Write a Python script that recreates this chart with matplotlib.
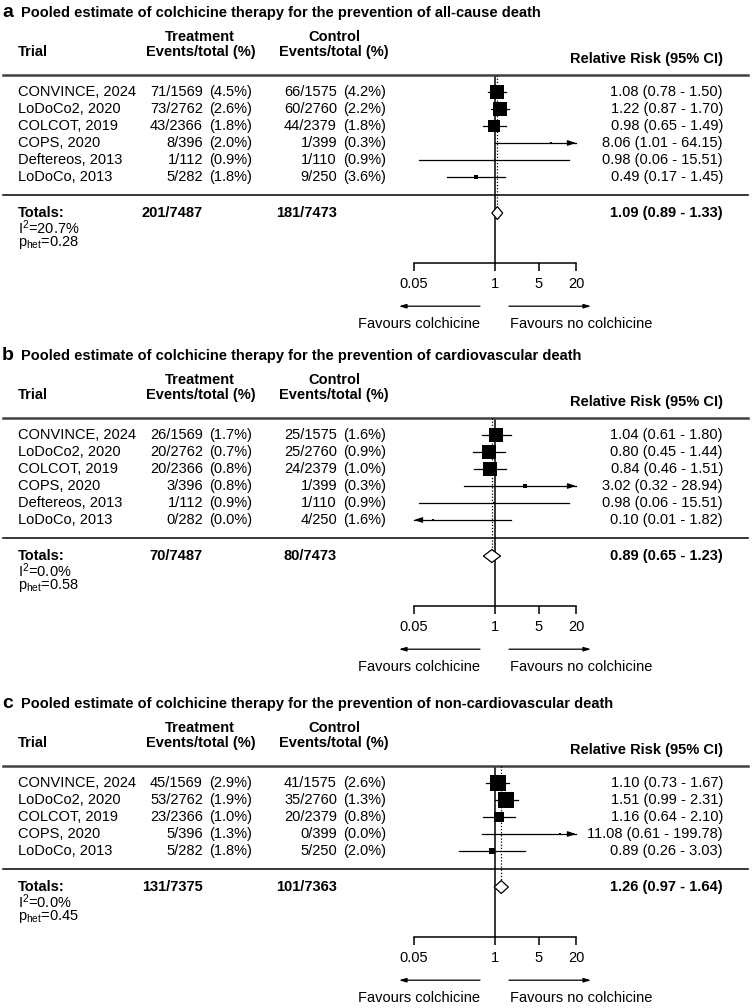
import matplotlib
matplotlib.use('Agg')
import matplotlib.pyplot as plt
from matplotlib import transforms
from matplotlib.patches import Polygon
from matplotlib.ticker import NullLocator

plt.rcParams['font.family'] = ['Liberation Sans', 'DejaVu Sans']
plt.rcParams['font.size'] = 10.5
plt.rcParams['mathtext.fontset'] = 'custom'
plt.rcParams['mathtext.rm'] = 'Liberation Sans'
plt.rcParams['mathtext.it'] = 'Liberation Sans:italic'
plt.rcParams['mathtext.bf'] = 'Liberation Sans:bold'

# ---- data: panel a (all-cause death) ----
a_trials = ['CONVINCE, 2024', 'LoDoCo2, 2020', 'COLCOT, 2019', 'COPS, 2020', 'Deftereos, 2013', 'LoDoCo, 2013']
a_trt_ev = [71, 73, 43, 8, 1, 5]
a_trt_n = [1569, 2762, 2366, 396, 112, 282]
a_ctl_ev = [66, 60, 44, 1, 1, 9]
a_ctl_n = [1575, 2760, 2379, 399, 110, 250]
a_rr = [1.08, 1.22, 0.98, 8.06, 0.98, 0.49]
a_lo = [0.78, 0.87, 0.65, 1.01, 0.06, 0.17]
a_hi = [1.50, 1.70, 1.49, 64.15, 15.51, 1.45]
a_weight = [36.5, 35.4, 23.3, 1.0, 0.5, 3.4]
a_pooled = (1.09, 0.89, 1.33)
a_i2, a_phet = '20.7', '0.28'

# ---- data: panel b (cardiovascular death) ----
b_trials = ['CONVINCE, 2024', 'LoDoCo2, 2020', 'COLCOT, 2019', 'COPS, 2020', 'Deftereos, 2013', 'LoDoCo, 2013']
b_trt_ev = [26, 20, 20, 3, 1, 0]
b_trt_n = [1569, 2762, 2366, 396, 112, 282]
b_ctl_ev = [25, 25, 24, 1, 1, 4]
b_ctl_n = [1575, 2760, 2379, 399, 110, 250]
b_rr = [1.04, 0.80, 0.84, 3.02, 0.98, 0.10]
b_lo = [0.61, 0.45, 0.46, 0.32, 0.06, 0.01]
b_hi = [1.80, 1.44, 1.51, 28.94, 15.51, 1.82]
b_weight = [34.9, 30.5, 29.9, 2.1, 1.4, 1.2]
b_pooled = (0.89, 0.65, 1.23)
b_i2, b_phet = '0.0', '0.58'

# ---- data: panel c (non-cardiovascular death) ----
c_trials = ['CONVINCE, 2024', 'LoDoCo2, 2020', 'COLCOT, 2019', 'COPS, 2020', 'LoDoCo, 2013']
c_trt_ev = [45, 53, 23, 5, 5]
c_trt_n = [1569, 2762, 2366, 396, 282]
c_ctl_ev = [41, 35, 20, 0, 5]
c_ctl_n = [1575, 2760, 2379, 399, 250]
c_rr = [1.10, 1.51, 1.16, 11.08, 0.89]
c_lo = [0.73, 0.99, 0.64, 0.61, 0.26]
c_hi = [1.67, 2.31, 2.10, 199.78, 3.03]
c_weight = [38.1, 37.5, 19.0, 0.8, 4.4]
c_pooled = (1.26, 0.97, 1.64)
c_i2, c_phet = '0.0', '0.45'

outcomes = ['all-cause death', 'cardiovascular death', 'non-cardiovascular death']
letters = ['a', 'b', 'c']

panels = [
    (a_trials, a_trt_ev, a_trt_n, a_ctl_ev, a_ctl_n, a_rr, a_lo, a_hi, a_weight, a_pooled, a_i2, a_phet),
    (b_trials, b_trt_ev, b_trt_n, b_ctl_ev, b_ctl_n, b_rr, b_lo, b_hi, b_weight, b_pooled, b_i2, b_phet),
    (c_trials, c_trt_ev, c_trt_n, c_ctl_ev, c_ctl_n, c_rr, c_lo, c_hi, c_weight, c_pooled, c_i2, c_phet),
]

# layout in pixels
W, H = 752, 1008
ROW = 17.0
X_LO, X_HI = 414, 576
XMIN, XMAX = 0.05, 20
panel_tops = [12, 355, 703]

fig = plt.figure(figsize=(W / 100, H / 100), dpi=100)
fig.patch.set_facecolor('white')

for letter, outcome, p, top in zip(letters, outcomes, panels, panel_tops):
    trials, t_ev, t_n, c_ev, c_n, rr, lo, hi, wt, pooled, i2, phet = p
    n = len(trials)
    row0 = top + 80
    y_top = -1.0
    y_axis = n + 4.06
    top_px = row0 + y_top * ROW
    bot_px = row0 + y_axis * ROW
    ax = fig.add_axes([X_LO / W, 1 - bot_px / H, (X_HI - X_LO) / W, (bot_px - top_px) / H])
    ax.patch.set_visible(False)
    ax.set_xscale('log')
    ax.set_xlim(XMIN, XMAX)
    ax.set_ylim(y_axis, y_top)
    for s in ['top', 'left', 'right']:
        ax.spines[s].set_visible(False)
    ax.spines['bottom'].set_linewidth(1.1)
    ax.yaxis.set_visible(False)
    ax.set_xticks([0.05, 1, 5, 20])
    ax.set_xticklabels(['0.05', '1', '5', '20'])
    ax.xaxis.set_minor_locator(NullLocator())
    ax.tick_params(axis='x', direction='out', length=6, width=1.1, pad=4, labelsize=10.5)

    trans = transforms.blended_transform_factory(fig.transFigure, ax.transData)

    def put(x, y, s, **kw):
        ax.text(x / W, y, s, transform=trans, clip_on=False, **kw)

    def rule(y, **kw):
        ax.plot([3 / W, 748 / W], [y, y], transform=trans, clip_on=False, **kw)

    # title
    put(2, -4.41, letter, fontsize=14, fontweight='bold', va='baseline')
    put(21, -4.41, 'Pooled estimate of colchicine therapy for the prevention of ' + outcome,
        fontweight='bold', va='baseline')

    # headers
    put(200, -3.24, 'Treatment', fontweight='bold', ha='center', va='center')
    put(334, -3.24, 'Control', fontweight='bold', ha='center', va='center')
    put(18, -2.35, 'Trial', fontweight='bold', va='center')
    put(201, -2.35, 'Events/total (%)', fontweight='bold', ha='center', va='center')
    put(334, -2.35, 'Events/total (%)', fontweight='bold', ha='center', va='center')
    put(723, -1.94, 'Relative Risk (95% CI)', fontweight='bold', ha='right', va='center')

    rule(-1.0, color='#404040', lw=1.8)
    rule(n + 0.06, color='black', lw=1.1)

    # study rows
    for i in range(n):
        put(18, i, trials[i], va='center')
        put(203, i, f'{t_ev[i]}/{t_n[i]}', ha='right', va='center')
        put(209, i, f'({100 * t_ev[i] / t_n[i]:.1f}%)', va='center')
        put(337, i, f'{c_ev[i]}/{c_n[i]}', ha='right', va='center')
        put(343, i, f'({100 * c_ev[i] / c_n[i]:.1f}%)', va='center')
        put(723, i, f'{rr[i]:.2f} ({lo[i]:.2f} - {hi[i]:.2f})', ha='right', va='center')

        x0 = max(lo[i], XMIN)
        x1 = min(hi[i], XMAX)
        ax.plot([x0, x1], [i, i], color='black', lw=0.9, clip_on=False, zorder=2)
        head = dict(arrowstyle='-|>,head_length=0.45,head_width=0.15', color='black', lw=0.9,
                    shrinkA=0, shrinkB=0)
        if hi[i] > XMAX:
            ax.annotate('', xy=(XMAX, i), xytext=(XMAX * 0.8, i), arrowprops=head, zorder=2)
        if lo[i] < XMIN:
            ax.annotate('', xy=(XMIN, i), xytext=(XMIN * 1.25, i), arrowprops=head, zorder=2)
        side_px = 2.45 * wt[i] ** 0.5
        ax.plot([rr[i]], [i], marker='s', ms=side_px * 0.72, color='black', mew=0,
                clip_on=False, zorder=3)

    # line of no effect
    ax.axvline(1, color='black', lw=1.1, zorder=1)

    # totals row
    yt = n + 1.12
    put(18, yt, 'Totals:', fontweight='bold', va='center')
    put(203, yt, f'{sum(t_ev)}/{sum(t_n)}', fontweight='bold', ha='right', va='center')
    put(337, yt, f'{sum(c_ev)}/{sum(c_n)}', fontweight='bold', ha='right', va='center')
    put(723, yt, f'{pooled[0]:.2f} ({pooled[1]:.2f} - {pooled[2]:.2f})', fontweight='bold',
        ha='right', va='center')
    put(18, n + 1.98, 'I$^{2}$=' + i2 + '%', va='center')
    put(18, n + 2.87, r'p$_{\mathrm{het}}$=' + phet, va='center')

    dh = 0.38
    est, plo, phi = pooled
    ax.add_patch(Polygon([(plo, yt), (est, yt - dh), (phi, yt), (est, yt + dh)], closed=True,
                         facecolor='white', edgecolor='black', lw=0.9, zorder=4, clip_on=False))
    ax.plot([est, est], [y_top, yt - dh], color='black', lw=0.9, ls=(0, (1, 1.5)), zorder=2)

    # favours arrows
    ya = n + 6.6
    arr = dict(arrowstyle='-|>,head_length=0.4,head_width=0.12', color='black', lw=0.9,
               shrinkA=0, shrinkB=0)
    ax.annotate('', xy=(399 / W, ya), xytext=(480 / W, ya), xycoords=trans, textcoords=trans,
                arrowprops=arr, annotation_clip=False)
    ax.annotate('', xy=(591 / W, ya), xytext=(509 / W, ya), xycoords=trans, textcoords=trans,
                arrowprops=arr, annotation_clip=False)
    put(480, n + 7.65, 'Favours colchicine', ha='right', va='center')
    put(510, n + 7.65, 'Favours no colchicine', ha='left', va='center')

fig.savefig('out.png', dpi=100, facecolor='white')
